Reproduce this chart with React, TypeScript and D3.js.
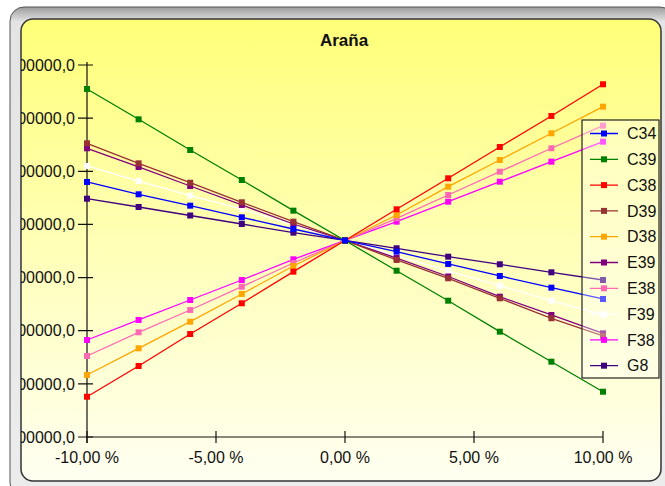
import React from "react";
import * as d3 from "d3";

const xValues = [-10, -8, -6, -4, -2, 0, 2, 4, 6, 8, 10];
const xTicks = [-10, -5, 0, 5, 10];
const yTicks = [100000, 200000, 300000, 400000, 500000, 600000, 700000, 800000];
const seriesNames = ["C34", "C39", "C38", "D39", "D38", "E39", "E38", "F39", "F38", "G8"];
const seriesColors = ["#0000ff", "#008000", "#ff0000", "#993333", "#ffa500", "#800080", "#ff69b4", "#ffffff", "#ff00ff", "#400080"];

const C34 = [579900, 556700, 535300, 513400, 491400, 469800, 448700, 425600, 403000, 381000, 359700];
const C39 = [754900, 697800, 640100, 583600, 525900, 469800, 412900, 356500, 298200, 241700, 185200];
const C38 = [175800, 233600, 293800, 351600, 411100, 469800, 528500, 586800, 645700, 704100, 763700];
const D39 = [652700, 615000, 578500, 541700, 505200, 469800, 433100, 398600, 361000, 323400, 290100];
const D38 = [216700, 266900, 317000, 369100, 421800, 469800, 517800, 571000, 621300, 671500, 721600];
const E39 = [643300, 608100, 572300, 536600, 500800, 469800, 436800, 402000, 364000, 329600, 295100];
const E38 = [252400, 297000, 339000, 382800, 427400, 469800, 511500, 555400, 599200, 643300, 685800];
const F39 = [610000, 581700, 554100, 529100, 498900, 469800, 440600, 412400, 384700, 356500, 329600];
const F38 = [282500, 320200, 357800, 395400, 434400, 469800, 505200, 542800, 580400, 618100, 655700];
const G8 = [548400, 532800, 516800, 500800, 484500, 469800, 455100, 439300, 425000, 409900, 395400];

const seriesValues = [C34, C39, C38, D39, D38, E39, E38, F39, F38, G8];

const locale = d3.formatLocale({ decimal: ",", thousands: ".", grouping: [3], currency: ["", " €"], minus: "-" });
const fmtX = (v: number) => locale.format(".2f")(v) + " %";
const fmtY = (v: number) => locale.format(".1f")(v);

const FONT = "'Liberation Sans', Arial, sans-serif";

export default function App() {
  const W = 665, H = 486;
  const x = d3.scaleLinear().domain([-10, 10]).range([87, 603]);
  const y = d3.scaleLinear().domain([100000, 800000]).range([437, 65]);
  const line = d3.line<number>().x((_, i) => x(xValues[i])).y((d) => y(d));
  const order = seriesNames.map((_, i) => i).reverse();
  const ms = 6;
  const legend = { x: 582, y: 120, w: 77, h: 258, row: 25.8, first: 133.5 };

  return (
    <svg width={W} height={H} style={{ position: "fixed", left: 0, top: 0, background: "#fff" }} fontFamily={FONT}>
      <defs>
        <linearGradient id="frame" x1="0" y1="0" x2="0" y2="1">
          <stop offset="0" stopColor="#9c9c9c" />
          <stop offset="0.03" stopColor="#e4e4e4" />
          <stop offset="1" stopColor="#ececec" />
        </linearGradient>
        <linearGradient id="panel" x1="0" y1="0" x2="0" y2="1">
          <stop offset="0" stopColor="#ffff78" />
          <stop offset="0.5" stopColor="#ffffb8" />
          <stop offset="1" stopColor="#fffff2" />
        </linearGradient>
        <clipPath id="clip">
          <rect x={21} y={19} width={640} height={462} rx={12} />
        </clipPath>
      </defs>
      <rect x={10} y={7} width={664} height={490} rx={14} fill="url(#frame)" stroke="#555" strokeWidth={1} />
      <rect x={21} y={19} width={640} height={462} rx={12} fill="url(#panel)" stroke="#333" strokeWidth={1.5} />
      <g clipPath="url(#clip)">
        <text x={344} y={46} textAnchor="middle" fontSize={17} fontWeight="bold" fill="#111">Araña</text>
        <line x1={x(-10)} x2={x(-10)} y1={62} y2={443} stroke="#111" strokeWidth={1.2} />
        <line x1={x(-10)} x2={x(10)} y1={y(100000)} y2={y(100000)} stroke="#111" strokeWidth={1.2} />
        {yTicks.map((t) => (
          <g key={"y" + t}>
            <line x1={78} x2={93} y1={y(t)} y2={y(t)} stroke="#111" strokeWidth={1.2} />
            <text x={75} y={y(t)} dy="0.36em" textAnchor="end" fontSize={16} fill="#111">{fmtY(t)}</text>
          </g>
        ))}
        {xTicks.map((t) => (
          <g key={"x" + t}>
            <line x1={x(t)} x2={x(t)} y1={431} y2={443} stroke="#111" strokeWidth={1.2} />
            <text x={x(t)} y={463} textAnchor="middle" fontSize={16} fill="#111">{fmtX(t)}</text>
          </g>
        ))}
        {order.map((si) => (
          <g key={seriesNames[si]}>
            <path d={line(seriesValues[si]) || ""} fill="none" stroke={seriesColors[si]} strokeWidth={1.3} />
            {seriesValues[si].map((v, i) => (
              <rect key={i} x={x(xValues[i]) - ms / 2} y={y(v) - ms / 2} width={ms} height={ms} fill={seriesColors[si]} />
            ))}
          </g>
        ))}
        <rect x={legend.x} y={legend.y} width={legend.w} height={legend.h} fill="#ffffff" fillOpacity={0.35} stroke="#222" strokeWidth={1.2} />
        {seriesNames.map((n, i) => {
          const cy = legend.first + i * legend.row;
          return (
            <g key={"l" + n}>
              <line x1={590} x2={618} y1={cy} y2={cy} stroke={seriesColors[i]} strokeWidth={1.3} />
              <rect x={604 - ms / 2} y={cy - ms / 2} width={ms} height={ms} fill={seriesColors[i]} />
              <text x={627} y={cy} dy="0.36em" fontSize={16} fill="#111">{n}</text>
            </g>
          );
        })}
      </g>
    </svg>
  );
}
